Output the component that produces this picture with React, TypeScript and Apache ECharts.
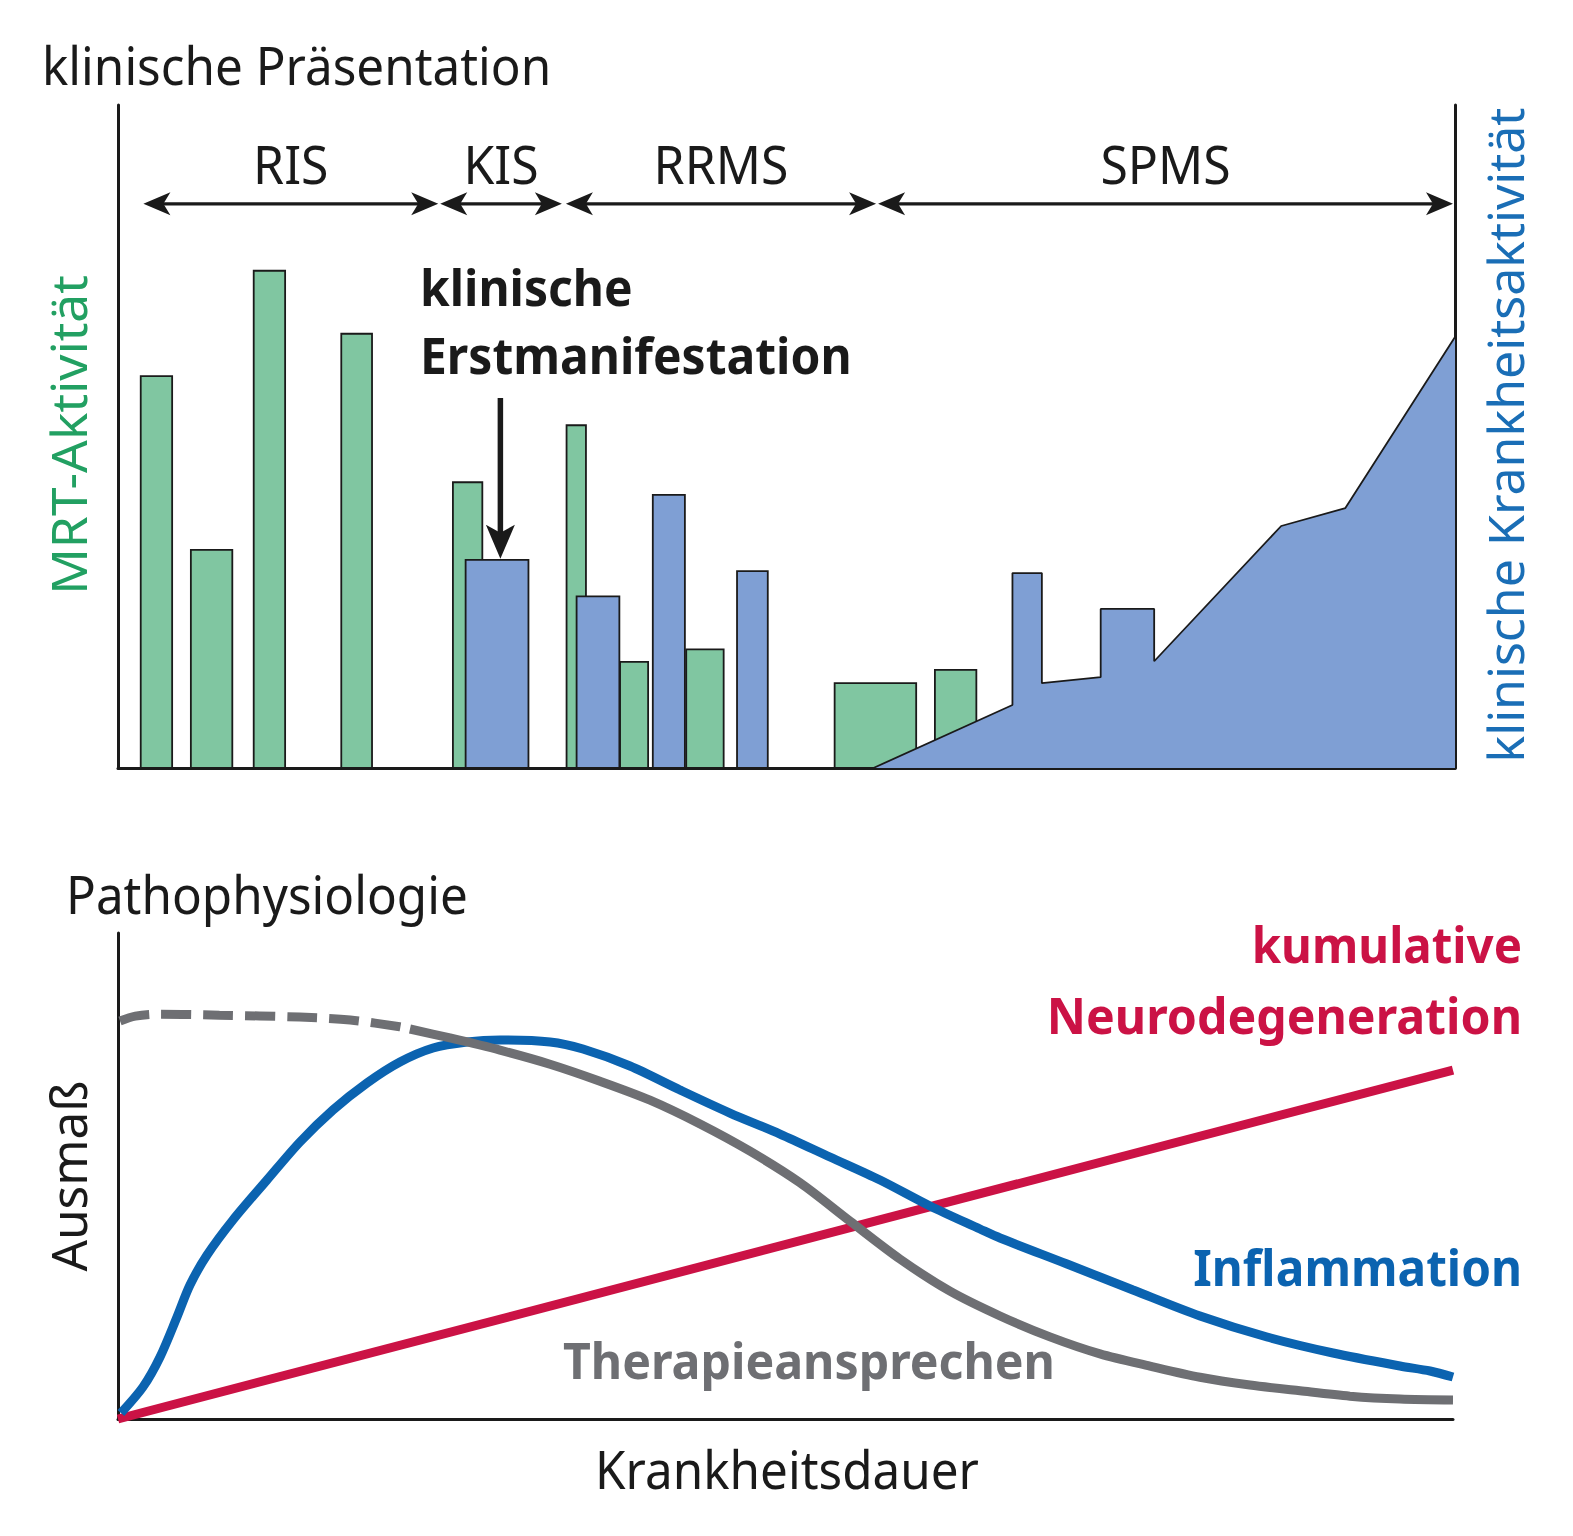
import React, { useEffect, useRef } from 'react';
import * as echarts from 'echarts';

// ---------- top panel: clinical presentation ----------
const mrtBarStart = [1.7, 5.45, 10.15, 16.7, 25.05, 33.55, 37.55, 42.5, 53.6, 61.1];
const mrtBarEnd = [4.05, 8.55, 12.5, 19.0, 27.25, 35.0, 39.65, 45.3, 59.7, 64.2];
const mrtBarValue = [59.1, 32.9, 75.0, 65.5, 43.1, 51.7, 16.0, 17.9, 12.8, 14.8];

const clinBarStart = [26.0, 34.3, 40.0, 46.3];
const clinBarEnd = [30.7, 37.5, 42.4, 48.6];
const clinBarValue = [31.4, 25.9, 41.2, 29.7];

const spmsX = [56.5, 66.9, 66.9, 69.1, 69.1, 73.5, 73.5, 77.5, 77.5, 87.0, 91.8, 100];
const spmsY = [0, 9.5, 29.4, 29.4, 12.8, 13.7, 24.0, 24.0, 16.1, 36.5, 39.2, 65.0];

const phaseNames = ['RIS', 'KIS', 'RRMS', 'SPMS'];
const phaseStart = [1.9, 24.1, 33.5, 56.85];
const phaseEnd = [23.95, 33.2, 56.7, 99.85];
const phaseLevel = 85.1;

const onsetX = 28.6;
const onsetFrom = 55.8;
const onsetTo = 31.4;

// ---------- bottom panel: pathophysiology ----------
const inflX = [0.22, 1.87, 3.15, 4.42, 5.39, 6.67, 8.61, 11.16, 13.63, 16.1, 18.65, 21.12, 23.6, 26.14, 28.61, 32.36, 34.83, 38.35, 42.1, 45.84, 49.59, 53.33, 57.08, 60.82, 64.57, 66.07, 71.09, 76.03, 81.05, 86.07, 91.01, 96.03, 98.28, 100];
const inflY = [1.23, 6.58, 12.76, 20.99, 27.57, 33.74, 40.95, 49.18, 57.0, 63.58, 69.14, 73.46, 76.34, 77.57, 77.98, 77.57, 76.13, 72.63, 67.7, 62.96, 58.64, 53.91, 49.18, 43.83, 39.09, 37.24, 31.89, 26.54, 21.19, 16.87, 13.58, 10.91, 9.88, 8.64];

const therDashX = [0.15, 1.3, 3.1, 7.6, 13.6, 17.4, 21.1, 21.87];
const therDashY = [81.9, 82.9, 83.3, 83.1, 82.7, 82.1, 80.7, 80.25];
const therX = [21.87, 24.87, 28.61, 32.36, 36.1, 39.85, 43.6, 47.34, 51.09, 54.83, 58.58, 62.32, 66.07, 69.81, 73.56, 77.3, 81.05, 84.79, 88.54, 92.28, 96.03, 100];
const therY = [80.25, 78.4, 75.9, 73.0, 69.5, 65.6, 60.7, 55.1, 48.6, 40.7, 32.9, 26.3, 21.2, 16.9, 13.4, 10.9, 8.6, 7.0, 5.8, 4.7, 4.1, 3.9];

const neuroX = [0, 100];
const neuroY = [0, 71.8];

const C = {
  ink: '#1a1a1a',
  greenBar: '#80c6a1',
  blueBar: '#7f9fd4',
  greenText: '#22a062',
  blueText: '#1a6eb6',
  infl: '#0b63b0',
  neuro: '#cb1245',
  ther: '#6e6f73',
};

const FONT = '"Noto Sans", "Open Sans", sans-serif';

function pairs(xs: number[], ys: number[]) {
  return xs.map((x, i) => [x, ys[i]]);
}

function txt(text: string, x: number, baseline: number, o: any) {
  const size = o.size;
  const rot = o.rot || 0;
  return {
    type: 'text',
    x,
    y: rot ? baseline : baseline - size * 0.37,
    scaleX: o.sx ?? 1,
    rotation: rot,
    z: 100,
    style: {
      text,
      fill: o.color || C.ink,
      font: `${o.weight || 'normal'} ${size}px ${FONT}`,
      align: o.align || 'left',
      verticalAlign: 'middle',
    },
  };
}

function headPoly(tx: number, ty: number, dx: number, dy: number, L: number, W: number, notch: number) {
  const px = -dy, py = dx;
  const bx = tx - dx * L, by = ty - dy * L;
  const nx = tx - dx * (L - notch), ny = ty - dy * (L - notch);
  return {
    type: 'polygon',
    z: 100,
    shape: { points: [[tx, ty], [bx + px * W, by + py * W], [nx, ny], [bx - px * W, by - py * W]] },
    style: { fill: C.ink },
  };
}

export default function App() {
  const ref = useRef<HTMLDivElement>(null);

  useEffect(() => {
    if (!ref.current) return;
    const chart = echarts.init(ref.current, null, { renderer: 'svg' });

    const axisLine = { show: true, onZero: false, lineStyle: { color: C.ink, width: 3 } };
    const hidden = { axisTick: { show: false }, axisLabel: { show: false }, splitLine: { show: false } };

    const barSeries = (name: string, s: number[], e: number[], v: number[], fill: string, z: number) => ({
      type: 'custom',
      name,
      xAxisIndex: 0,
      yAxisIndex: 0,
      z,
      clip: false,
      encode: { x: [0, 1], y: 2 },
      data: s.map((x, i) => [x, e[i], v[i]]),
      renderItem: (params: any, api: any) => {
        const p0 = api.coord([api.value(0), api.value(2)]);
        const p1 = api.coord([api.value(1), 0]);
        return {
          type: 'rect',
          shape: { x: p0[0], y: p0[1], width: p1[0] - p0[0], height: p1[1] - p0[1] },
          style: { fill, stroke: C.ink, lineWidth: 1.8 },
        };
      },
    });

    const curve = (name: string, xs: number[], ys: number[], color: string, z: number, type: any = 'solid', smooth: any = 0.3) => ({
      type: 'line',
      name,
      xAxisIndex: 1,
      yAxisIndex: 2,
      z,
      clip: false,
      symbol: 'none',
      smooth,
      data: pairs(xs, ys),
      lineStyle: { color, width: 9, type, cap: 'butt' },
    });

    const option: any = {
      animation: false,
      backgroundColor: '#ffffff',
      grid: [
        { left: 118, top: 105, width: 1337, height: 663 },
        { left: 118, top: 933, width: 1335, height: 486 },
      ],
      xAxis: [
        { type: 'value', gridIndex: 0, min: 0, max: 100, axisLine, ...hidden },
        { type: 'value', gridIndex: 1, min: 0, max: 100, axisLine, ...hidden },
      ],
      yAxis: [
        { type: 'value', gridIndex: 0, min: 0, max: 100, position: 'left', axisLine, ...hidden },
        { type: 'value', gridIndex: 0, min: 0, max: 100, position: 'right', axisLine, ...hidden },
        { type: 'value', gridIndex: 1, min: 0, max: 100, position: 'left', axisLine, ...hidden },
      ],
      series: [
        barSeries('MRT-Aktivität', mrtBarStart, mrtBarEnd, mrtBarValue, C.greenBar, 2),
        barSeries('klinische Krankheitsaktivität', clinBarStart, clinBarEnd, clinBarValue, C.blueBar, 3),
        {
          type: 'line',
          name: 'SPMS',
          xAxisIndex: 0,
          yAxisIndex: 0,
          z: 4,
          clip: false,
          symbol: 'none',
          data: pairs(spmsX, spmsY),
          lineStyle: { color: C.ink, width: 1.8 },
          areaStyle: { color: C.blueBar, opacity: 1 },
        },
        curve('kumulative Neurodegeneration', neuroX, neuroY, C.neuro, 5, 'solid', false),
        curve('Inflammation', inflX, inflY, C.infl, 6),
        curve('Therapieansprechen (früh)', therDashX, therDashY, C.ther, 7, [30, 12]),
        curve('Therapieansprechen', therX, therY, C.ther, 7),
      ],
    };

    chart.setOption(option);

    const toPx = (x: number, y: number) =>
      chart.convertToPixel({ xAxisIndex: 0, yAxisIndex: 0 }, [x, y]) as number[];

    const g: any[] = [];
    phaseNames.forEach((name, i) => {
      const a = toPx(phaseStart[i], phaseLevel);
      const b = toPx(phaseEnd[i], phaseLevel);
      const L = 27, W = 11.5;
      g.push({
        type: 'line', z: 100,
        shape: { x1: a[0] + L - 8, y1: a[1], x2: b[0] - L + 8, y2: b[1] },
        style: { stroke: C.ink, lineWidth: 3.2 },
      });
      g.push(headPoly(a[0], a[1], -1, 0, L, W, 7));
      g.push(headPoly(b[0], b[1], 1, 0, L, W, 7));
      g.push(txt(name, (a[0] + b[0]) / 2, a[1] - 20, { size: 52, sx: 0.96, align: 'center' }));
    });
    const o0 = toPx(onsetX, onsetFrom);
    const o1 = toPx(onsetX, onsetTo);
    g.push({
      type: 'line', z: 100,
      shape: { x1: o0[0], y1: o0[1], x2: o1[0], y2: o1[1] - 25 },
      style: { stroke: C.ink, lineWidth: 5.5 },
    });
    g.push(headPoly(o1[0], o1[1] - 1, 0, 1, 34, 14.5, 8));

    g.push(txt('klinische Präsentation', 42, 84, { size: 52, sx: 0.95 }));
    g.push(txt('klinische', 420, 305, { size: 50, sx: 0.96, weight: 'bold' }));
    g.push(txt('Erstmanifestation', 420, 373, { size: 50, sx: 0.96, weight: 'bold' }));
    g.push(txt('MRT-Aktivität', 68, 435, { size: 50, sx: 1.03, rot: Math.PI / 2, align: 'center', color: C.greenText }));
    g.push(txt('klinische Krankheitsaktivität', 1505, 435, { size: 50, sx: 1.0, rot: Math.PI / 2, align: 'center', color: C.blueText }));
    g.push(txt('Pathophysiologie', 66, 913, { size: 52, sx: 0.95 }));
    g.push(txt('Ausmaß', 68, 1176, { size: 50, sx: 0.99, rot: Math.PI / 2, align: 'center' }));
    g.push(txt('Krankheitsdauer', 787, 1488, { size: 52, sx: 0.95, align: 'center' }));
    g.push(txt('kumulative', 1522, 962, { size: 50, sx: 0.95, weight: 'bold', align: 'right', color: C.neuro }));
    g.push(txt('Neurodegeneration', 1522, 1033, { size: 50, sx: 0.965, weight: 'bold', align: 'right', color: C.neuro }));
    g.push(txt('Inflammation', 1522, 1285, { size: 50, sx: 0.955, weight: 'bold', align: 'right', color: C.infl }));
    g.push(txt('Therapieansprechen', 563, 1378, { size: 50, sx: 0.965, weight: 'bold', color: C.ther }));

    chart.setOption({ graphic: { elements: g } });

    return () => chart.dispose();
  }, []);

  return (
    <div
      ref={ref}
      style={{ position: 'absolute', left: 0, top: 0, width: 1573, height: 1536, background: '#fff' }}
    />
  );
}
